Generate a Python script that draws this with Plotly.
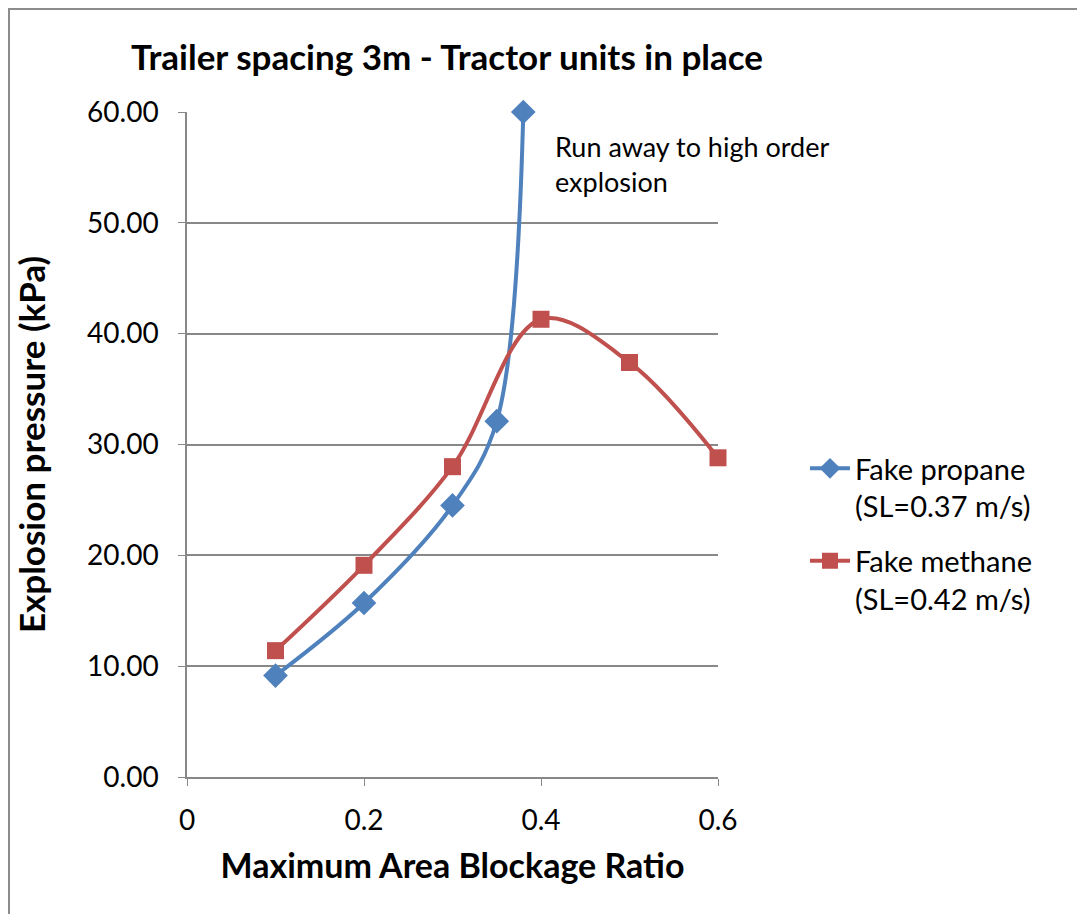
import plotly.graph_objects as go

propane_x = [0.1, 0.2, 0.3, 0.35, 0.38]
propane_y = [9.15, 15.7, 24.5, 32.1, 60.0]
methane_x = [0.1, 0.2, 0.3, 0.4, 0.5, 0.6]
methane_y = [11.4, 19.1, 28.0, 41.3, 37.4, 28.8]

FONT = "Lato"
OFF = 8  # page offset of the figure
W, H = 1085 - OFF, 914 - OFF
L, R, T, B = 187 - OFF, 718 - OFF, 112 - OFF, 777 - OFF
pw, ph = R - L, B - T

def px(xr):  # reference pixel x -> paper x
    return (xr - OFF - L) / pw

def py(yr):  # reference pixel y -> paper y
    return (B - (yr - OFF)) / ph

fig = go.Figure()
fig.add_trace(go.Scatter(
    x=propane_x, y=propane_y, mode="lines+markers",
    name="Fake propane<br>(SL=0.37 m/s)", cliponaxis=False, legendgroup="propane",
    line=dict(color="#4F81BD", width=4, shape="spline", smoothing=1),
    marker=dict(symbol="diamond", size=19, color="#4F81BD"),
))
fig.add_trace(go.Scatter(
    x=methane_x, y=methane_y, mode="lines+markers",
    name="Fake methane<br>(SL=0.42 m/s)", cliponaxis=False, legendgroup="methane",
    line=dict(color="#C0504D", width=4, shape="spline", smoothing=1),
    marker=dict(symbol="square", size=17, color="#C0504D"),
))

fig.add_shape(type="rect", xref="paper", yref="paper",
              x0=px(9), x1=px(1200), y0=py(1200), y1=py(9),
              line=dict(color="#8C8C8C", width=2), layer="below")

fig.add_annotation(x=px(553), y=py(128), xref="paper", yref="paper",
                   text="Run away to high order<br>explosion",
                   showarrow=False, xanchor="left", yanchor="top", align="left",
                   font=dict(family=FONT, size=27, color="#000"))

fig.update_layout(
    width=W, height=H,
    margin=dict(l=L, r=W - R, t=T, b=H - B),
    paper_bgcolor="white", plot_bgcolor="white",
    font=dict(family=FONT, color="#000"),
    title=dict(text="<b>Trailer spacing 3m - Tractor units in place</b>",
               x=(447 - OFF) / W, xanchor="center", y=1 - (58 - OFF) / H, yanchor="middle",
               font=dict(family=FONT, size=35, color="#000")),
    legend=dict(x=px(805), y=py(443), xanchor="left", yanchor="top", valign="top",
                font=dict(family=FONT, size=29, color="#000"),
                tracegroupgap=14, itemwidth=40, bgcolor="rgba(0,0,0,0)"),
    xaxis=dict(range=[0, 0.6], tickvals=[0, 0.2, 0.4, 0.6], ticktext=["0", "0.2", "0.4", "0.6"],
               showgrid=False, zeroline=False, showline=True, linecolor="#888", linewidth=1.5,
               ticks="outside", ticklen=7, tickcolor="#888",
               tickfont=dict(family=FONT, size=28), ticklabelstandoff=11,
               title=dict(text="<b>Maximum Area Blockage Ratio</b>", standoff=19,
                          font=dict(family=FONT, size=34))),
    yaxis=dict(range=[0, 60], dtick=10, tickformat=".2f",
               showgrid=True, gridcolor="#888", gridwidth=1.5, zeroline=False,
               showline=True, linecolor="#888", linewidth=1.5,
               ticks="outside", ticklen=7, tickcolor="#888",
               tickfont=dict(family=FONT, size=28), ticklabelstandoff=14,
               title=dict(text="<b>Explosion pressure (kPa)</b>", standoff=31,
                          font=dict(family=FONT, size=35))),
)

fig.write_html("out.html")
